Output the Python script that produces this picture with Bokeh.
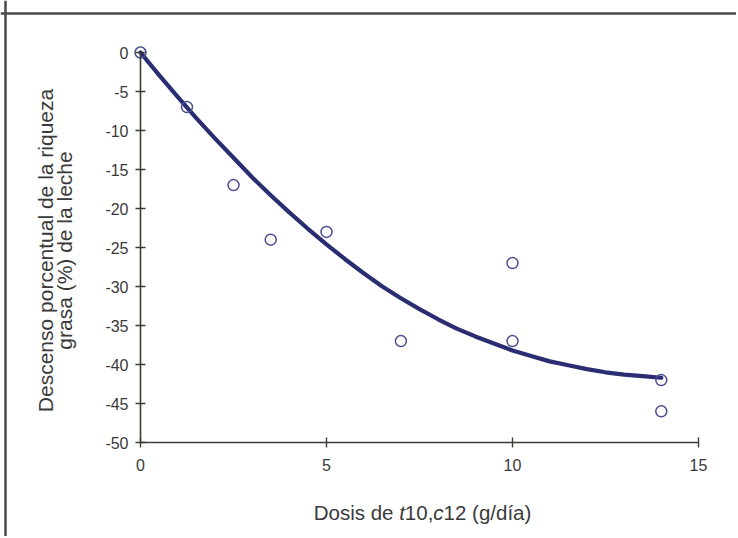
import math
from bokeh.plotting import figure
from bokeh.models import FixedTicker, Label, Range1d, Span
from bokeh.embed import file_html
from bokeh.resources import INLINE

# ---- data ----
dose = [0, 1.25, 2.5, 3.5, 5, 7, 10, 10, 14, 14]
descent = [0, -7, -17, -24, -23, -37, -27, -37, -42, -46]

# trend curve as drawn in the reference
curve_dose = [0, 0.5, 1, 1.5, 2, 2.5, 3, 3.5, 4, 4.5, 5, 5.5, 6, 6.5, 7, 7.5,
              8, 8.5, 9, 9.5, 10, 10.5, 11, 11.5, 12, 12.5, 13, 13.5, 14]
curve_descent = [0, -2.9, -5.7, -8.4, -11.0, -13.5, -16.0, -18.3, -20.5, -22.6,
                 -24.6, -26.5, -28.3, -30.0, -31.5, -32.9, -34.2, -35.4, -36.4,
                 -37.3, -38.2, -38.9, -39.6, -40.1, -40.6, -41.0, -41.3, -41.5, -41.7]

x_ticks = [0, 5, 10, 15]
x_tick_labels = ["0", "5", "10", "15"]
y_ticks = [0, -5, -10, -15, -20, -25, -30, -35, -40, -45, -50]
y_tick_labels = ["0", "-5", "-10", "-15", "-20", "-25", "-30", "-35", "-40", "-45", "-50"]

y_title_lines = ["Descenso porcentual de la riqueza", "grasa (%) de la leche"]
x_title_parts = [("Dosis de ", "normal"), ("t", "italic"), ("10,", "normal"),
                 ("c", "italic"), ("12 (g/día)", "normal")]

# ---- layout (frame covers the whole figure) ----
W, H = 736, 536
X0_PX, X15_PX = 140, 698       # pixels of x=0 and x=15
Y0_PX, Y50_PX = 52, 442        # pixels of y=0 and y=-50
SX = (X15_PX - X0_PX) / 15.0
SY = (Y50_PX - Y0_PX) / 50.0

def dx(px):
    return (px - X0_PX) / SX

def dy(py):
    return -(py - Y0_PX) / SY

FONT = "Liberation Sans"
AX_COL = "#3c3c34"
TXT_COL = "#3a3a3a"
FRAME_COL = "#4a4a4a"

p = figure(width=W, height=H, output_backend="svg", toolbar_location=None,
           x_range=Range1d(dx(0), dx(W)), y_range=Range1d(dy(H), dy(0)),
           min_border=0)
p.outline_line_color = None
p.grid.visible = False
p.background_fill_color = "white"
p.border_fill_color = "white"

# outer picture frame (left and top edges visible in the reference)
p.add_layout(Span(location=dx(5), dimension="height", line_color=FRAME_COL, line_width=2.5))
p.add_layout(Span(location=dy(13), dimension="width", line_color=FRAME_COL, line_width=2.5))

# x axis, drawn at y = -50
xa = p.xaxis[0]
xa.fixed_location = -50
xa.ticker = FixedTicker(ticks=x_ticks)
xa.major_label_overrides = {t: s for t, s in zip(x_ticks, x_tick_labels)}
xa.bounds = (0, 15)
xa.minor_tick_line_color = None
xa.major_tick_in = 5
xa.major_tick_out = 5
xa.major_label_standoff = 11
xa.axis_line_color = AX_COL
xa.axis_line_width = 1.6
xa.major_tick_line_color = AX_COL
xa.major_tick_line_width = 1.4
xa.major_label_text_font = FONT
xa.major_label_text_font_size = "16px"
xa.major_label_text_color = TXT_COL

# y axis, drawn at x = 0
ya = p.yaxis[0]
ya.fixed_location = 0
ya.ticker = FixedTicker(ticks=y_ticks)
ya.major_label_overrides = {t: s for t, s in zip(y_ticks, y_tick_labels)}
ya.bounds = (-50, 0)
ya.minor_tick_line_color = None
ya.major_tick_in = 5
ya.major_tick_out = 5
ya.major_label_standoff = 7
ya.axis_line_color = AX_COL
ya.axis_line_width = 1.6
ya.major_tick_line_color = AX_COL
ya.major_tick_line_width = 1.4
ya.major_label_text_font = FONT
ya.major_label_text_font_size = "16px"
ya.major_label_text_color = TXT_COL

# trend curve
p.line(curve_dose, curve_descent, line_color="#2b2d72", line_width=4.2,
       line_join="round", line_cap="round")

# observations
p.scatter(dose, descent, marker="circle", size=11, fill_color=None,
          line_color="#4c4c92", line_width=1.5)

# y axis title (two rotated lines)
for line, fx in zip(y_title_lines, [45, 64]):
    p.add_layout(Label(x=dx(fx), y=dy(250), text=line, angle=math.pi / 2,
                       text_align="center", text_baseline="middle",
                       text_font=FONT, text_font_size="21px", text_color=TXT_COL))

# x axis title with italic parts
FS = 20.5
em = {"Dosis de ": 4.168, "t": 0.278, "10,": 1.39, "c": 0.5, "12 (g/día)": 4.28}
total = sum(em[t] for t, _ in x_title_parts) * FS
px = X0_PX + 7.5 * SX - total / 2 + 3
for t, style in x_title_parts:
    p.add_layout(Label(x=dx(px), y=dy(512), text=t,
                       text_align="left", text_baseline="alphabetic",
                       text_font=FONT, text_font_size=f"{FS}px",
                       text_font_style=style, text_color=TXT_COL))
    px += em[t] * FS

open("out.html", "w").write(file_html(p, INLINE))
